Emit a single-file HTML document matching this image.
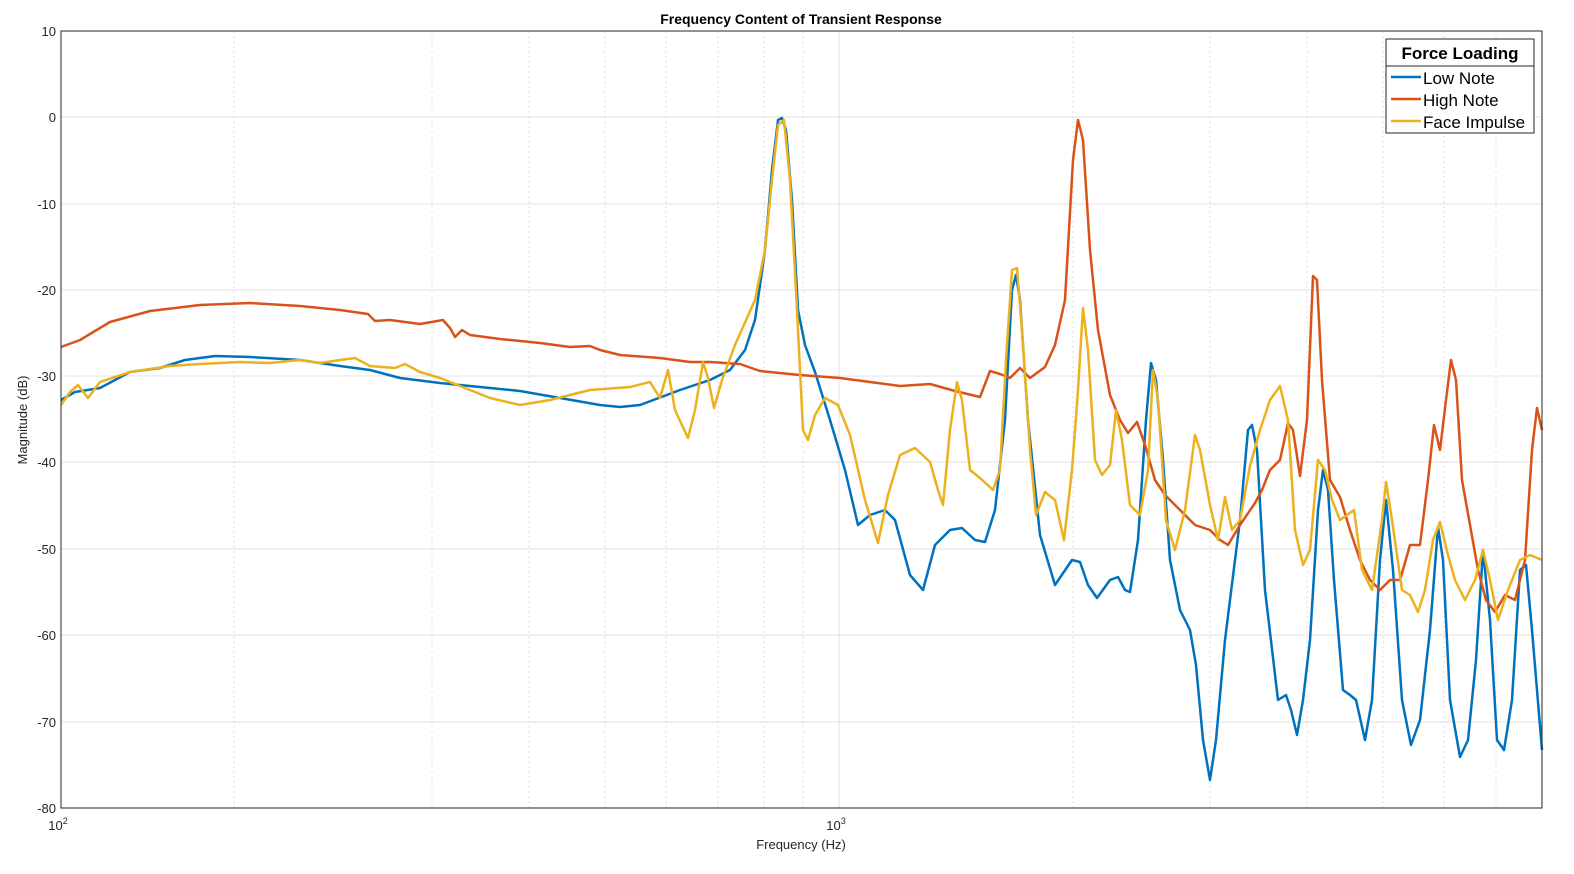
<!DOCTYPE html>
<html><head><meta charset="utf-8"><style>
html,body{margin:0;padding:0;background:#fff;overflow:hidden;width:1574px;height:874px}
svg{display:block;font-family:"Liberation Sans",Arial,sans-serif}
</style></head><body>
<svg width="1574" height="874" viewBox="0 0 1574 874">
<rect x="0" y="0" width="1574" height="874" fill="#fff"/>
<rect x="61" y="31" width="1481" height="777" fill="#fff"/>
<g stroke="#dcdcdc" stroke-width="1" stroke-dasharray="2,3">
<line x1="234" y1="31" x2="234" y2="808"/><line x1="432" y1="31" x2="432" y2="808"/><line x1="529" y1="31" x2="529" y2="808"/><line x1="605" y1="31" x2="605" y2="808"/><line x1="666" y1="31" x2="666" y2="808"/><line x1="718" y1="31" x2="718" y2="808"/><line x1="764" y1="31" x2="764" y2="808"/><line x1="803" y1="31" x2="803" y2="808"/>
<line x1="1073" y1="31" x2="1073" y2="808"/><line x1="1210" y1="31" x2="1210" y2="808"/><line x1="1307" y1="31" x2="1307" y2="808"/><line x1="1383" y1="31" x2="1383" y2="808"/><line x1="1444" y1="31" x2="1444" y2="808"/><line x1="1496" y1="31" x2="1496" y2="808"/>
</g>
<g stroke="#e0e0e0" stroke-width="1">
<line x1="839" y1="31" x2="839" y2="808"/>
<line x1="61" y1="117" x2="1542" y2="117"/><line x1="61" y1="204" x2="1542" y2="204"/><line x1="61" y1="290" x2="1542" y2="290"/><line x1="61" y1="376" x2="1542" y2="376"/><line x1="61" y1="462" x2="1542" y2="462"/><line x1="61" y1="549" x2="1542" y2="549"/><line x1="61" y1="635" x2="1542" y2="635"/><line x1="61" y1="722" x2="1542" y2="722"/>
</g>
<g fill="none" stroke-width="2.5" stroke-linejoin="round">
<polyline stroke="#0072bd" points="61,400 75,392 100,388 130,372 160,368 185,360 215,356 250,357 300,360 340,366 370,370 400,378 440,383 480,387 520,391 560,398 600,405 620,407 640,405 680,390 710,380 730,370 745,350 755,320 765,250 772,170 778,120 782,118 786,130 792,200 798,310 805,345 815,372 830,420 845,470 858,525 870,515 885,510 895,520 910,575 923,590 935,545 950,530 962,528 975,540 985,542 995,510 1005,420 1012,290 1016,275 1020,300 1028,420 1040,535 1055,585 1072,560 1080,562 1088,585 1097,598 1110,580 1118,577 1125,590 1130,592 1138,540 1146,420 1151,363 1156,380 1163,460 1170,560 1180,610 1190,630 1196,665 1203,740 1210,780 1216,740 1225,640 1240,520 1248,430 1252,425 1257,450 1265,590 1278,700 1286,695 1291,710 1297,735 1303,700 1310,640 1318,510 1323,470 1328,490 1334,580 1343,690 1350,695 1356,700 1365,740 1372,700 1380,560 1386,500 1393,570 1402,700 1411,745 1420,720 1430,630 1438,527 1443,560 1450,700 1460,757 1468,740 1476,660 1483,550 1490,620 1497,740 1504,750 1512,700 1520,570 1526,565 1532,630 1542,750"/>
<polyline stroke="#d95319" points="61,347 80,340 110,322 150,311 200,305 250,303 300,306 340,310 368,314 375,321 390,320 420,324 443,320 450,328 455,337 462,330 470,335 500,339 540,343 570,347 590,346 600,350 620,355 660,358 690,362 710,362 740,364 760,371 800,375 840,378 870,382 900,386 930,384 955,391 980,397 990,371 1000,374 1010,378 1020,368 1030,378 1045,367 1055,345 1065,300 1073,160 1078,120 1083,140 1090,250 1098,330 1110,395 1120,420 1128,433 1137,422 1145,445 1155,480 1165,495 1180,510 1195,525 1210,530 1220,540 1228,545 1240,525 1255,503 1262,490 1270,470 1280,460 1288,423 1293,430 1300,476 1307,420 1313,276 1317,280 1322,380 1330,480 1340,497 1350,530 1360,560 1370,580 1380,590 1390,580 1400,580 1410,545 1420,545 1428,480 1434,425 1440,450 1446,400 1451,360 1456,380 1462,480 1470,525 1478,570 1486,600 1495,612 1505,595 1515,600 1525,560 1532,450 1537,408 1542,430"/>
<polyline stroke="#edb120" points="61,405 70,392 78,385 88,398 100,382 130,372 170,366 200,364 240,362 270,363 300,360 320,363 340,360 355,358 370,366 395,368 405,364 420,372 440,378 460,386 490,398 520,405 550,400 590,390 630,387 650,382 660,398 668,370 675,410 688,438 695,410 703,362 708,378 714,408 722,380 735,345 755,300 765,250 772,180 778,125 784,120 790,180 797,310 803,430 808,440 815,415 825,398 838,405 850,435 865,500 878,543 888,495 900,455 915,448 930,462 938,490 943,505 950,430 957,382 962,400 970,470 980,478 993,490 1000,470 1006,360 1012,270 1017,268 1022,330 1030,450 1036,515 1045,492 1055,500 1064,540 1072,470 1078,390 1083,308 1088,350 1095,460 1102,475 1110,465 1116,410 1122,440 1130,505 1140,515 1148,470 1153,370 1158,400 1166,520 1175,550 1185,510 1195,435 1200,450 1210,505 1218,540 1225,497 1232,530 1240,520 1250,466 1260,430 1270,400 1280,386 1288,420 1295,530 1303,565 1310,550 1318,460 1325,470 1332,500 1340,520 1347,515 1354,510 1362,570 1372,590 1382,520 1386,482 1392,520 1402,590 1410,595 1418,612 1425,590 1433,540 1440,522 1448,555 1455,580 1465,600 1475,580 1483,550 1490,580 1498,620 1508,590 1520,560 1530,555 1542,560"/>
</g>
<rect x="61" y="31" width="1481" height="777" fill="none" stroke="#262626" stroke-width="1"/>
<g font-size="13" fill="#262626" text-anchor="end">
<text x="56" y="36">10</text><text x="56" y="122">0</text><text x="56" y="209">-10</text><text x="56" y="295">-20</text><text x="56" y="381">-30</text><text x="56" y="467">-40</text><text x="56" y="554">-50</text><text x="56" y="640">-60</text><text x="56" y="727">-70</text><text x="56" y="813">-80</text>
</g>
<g font-size="13" fill="#262626" text-anchor="middle">
<text x="58" y="830">10<tspan font-size="9" dy="-6">2</tspan></text>
<text x="836" y="830">10<tspan font-size="9" dy="-6">3</tspan></text>
<text x="801" y="849">Frequency (Hz)</text>
<text x="801" y="24" font-weight="bold" font-size="14" fill="#000">Frequency Content of Transient Response</text>
<text transform="translate(27,420) rotate(-90)">Magnitude (dB)</text>
</g>
<rect x="1386" y="39" width="148" height="94" fill="#fff" stroke="#262626" stroke-width="1"/>
<line x1="1386" y1="66" x2="1534" y2="66" stroke="#262626"/>
<text x="1460" y="59" font-size="17" font-weight="bold" text-anchor="middle">Force Loading</text>
<g stroke-width="2.5"><line x1="1391" y1="77" x2="1421" y2="77" stroke="#0072bd"/><line x1="1391" y1="99" x2="1421" y2="99" stroke="#d95319"/><line x1="1391" y1="121" x2="1421" y2="121" stroke="#edb120"/></g>
<g font-size="17" fill="#000"><text x="1423" y="84">Low Note</text><text x="1423" y="106">High Note</text><text x="1423" y="128">Face Impulse</text></g>
</svg>
</body></html>
